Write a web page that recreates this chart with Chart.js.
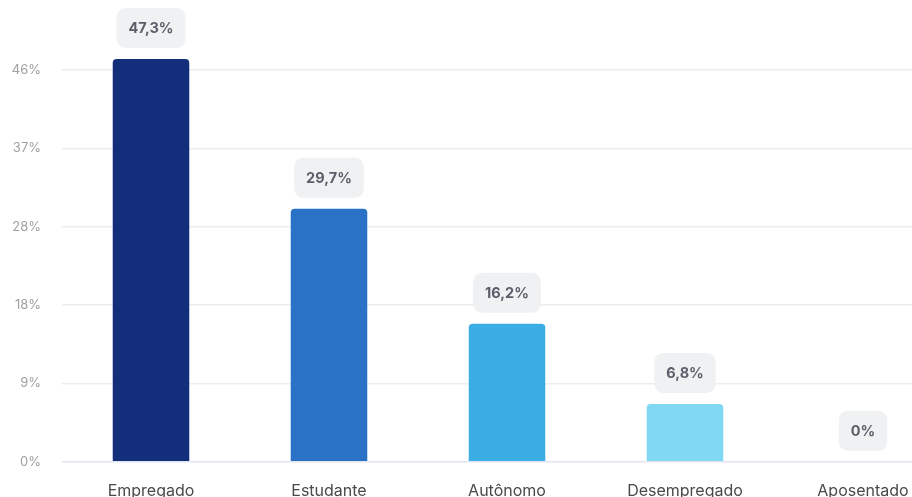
<!DOCTYPE html>
<html>
<head>
<meta charset="utf-8">
<script src="https://cdn.jsdelivr.net/npm/chart.js@4"></script>
<style>
  html, body { margin: 0; padding: 0; background: #fff; overflow: hidden; }
  #wrap { position: relative; width: 952px; height: 525px; }
</style>
</head>
<body>
<div id="wrap"><canvas id="barChart"></canvas></div>
<script>
const categories = ["Empregado", "Estudante", "Autônomo", "Desempregado", "Aposentado"];
const values = [47.3, 29.7, 16.2, 6.8, 0];
const barColors = ["#132f7c", "#2a72c5", "#3aade5", "#80d8f3", "#80d8f3"];
const tickValues = [0, 9.2, 18.4, 27.6, 36.8, 46];
const tickLabels = ["0%", "9%", "18%", "28%", "37%", "46%"];

// rounded grey boxes with the value above each bar
const valueBoxes = {
  id: "valueBoxes",
  afterDatasetsDraw(chart) {
    const ctx = chart.ctx;
    const meta = chart.getDatasetMeta(0);
    ctx.save();
    ctx.font = "bold 14.5px Inter, sans-serif";
    ctx.textAlign = "center";
    ctx.textBaseline = "middle";
    meta.data.forEach((bar, i) => {
      const text = String(values[i]).replace(".", ",") + "%";
      const w = ctx.measureText(text).width + 24;
      const h = 40;
      const x = bar.x - w / 2;
      const y = bar.y - 11 - h;
      ctx.fillStyle = "#f0f1f2";
      ctx.beginPath();
      ctx.roundRect(x, y, w, h, 9);
      ctx.fill();
      ctx.fillStyle = "#5b5f6a";
      ctx.fillText(text, bar.x, y + h / 2 + 1);
    });
    ctx.restore();
  },
};

document.addEventListener("DOMContentLoaded", () => {
  const barChart = document.querySelector("#barChart");
  new Chart(barChart, {
    type: "bar",
    data: {
      labels: categories,
      datasets: [
        {
          data: values,
          backgroundColor: barColors,
          borderRadius: { topLeft: 4, topRight: 4 },
          borderSkipped: "start",
          barPercentage: 0.43,
          categoryPercentage: 1,
          clip: false,
        },
      ],
    },
    options: {
      responsive: true,
      maintainAspectRatio: false,
      animation: false,
      layout: { padding: { top: 70, bottom: 4, left: 0, right: 0 } },
      plugins: { legend: { display: false }, tooltip: { enabled: false } },
      scales: {
        x: {
          grid: { display: false, drawTicks: false },
          border: { display: false },
          ticks: {
            padding: 20,
            color: "#4a4a4a",
            font: { family: "Inter, sans-serif", size: 16 },
          },
        },
        y: {
          min: 0,
          max: 46,
          afterBuildTicks: (scale) => {
            scale.ticks = tickValues.map((v) => ({ value: v }));
          },
          afterFit: (scale) => {
            scale.width = 62;
          },
          grid: {
            drawTicks: false,
            color: (c) => (c.tick && c.tick.value === 0 ? "#e1e5f0" : "#eeeeee"),
            lineWidth: 1.5,
          },
          border: { display: false },
          ticks: {
            padding: 21,
            color: "#a0a0a0",
            font: { family: "Inter, sans-serif", size: 13 },
            callback: (v, i) => tickLabels[i],
          },
        },
      },
    },
    plugins: [valueBoxes],
  });
});
</script>
</body>
</html>
